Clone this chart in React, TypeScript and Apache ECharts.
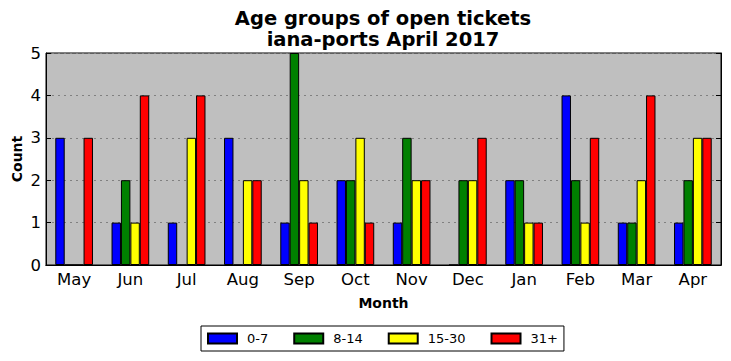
import React, { useEffect, useRef } from "react";
import * as echarts from "echarts";

const months = ["May", "Jun", "Jul", "Aug", "Sep", "Oct", "Nov", "Dec", "Jan", "Feb", "Mar", "Apr"];
const seriesNames = ["0-7", "8-14", "15-30", "31+"];
const colors = ["#0000ff", "#008000", "#ffff00", "#ff0000"];
const age0to7 = [3, 1, 1, 3, 1, 2, 1, 0, 2, 4, 1, 1];
const age8to14 = [0, 2, 0, 0, 5, 2, 3, 2, 2, 2, 1, 2];
const age15to30 = [0, 1, 3, 2, 2, 3, 2, 2, 1, 1, 2, 3];
const age31plus = [3, 4, 4, 2, 1, 1, 2, 3, 1, 3, 4, 3];
const yTicks = [0, 1, 2, 3, 4, 5];

const FONT = "DejaVu Sans";

export default function App() {
  const ref = useRef<HTMLDivElement>(null);
  useEffect(() => {
    if (!ref.current) return;
    const chart = echarts.init(ref.current, undefined, { renderer: "svg" });
    const data = [age0to7, age8to14, age15to30, age31plus];
    chart.setOption({
      animation: false,
      backgroundColor: "#ffffff",
      title: {
        text: "Age groups of open tickets\niana-ports April 2017",
        left: 383,
        textAlign: "center",
        top: 8,
        padding: 0,
        textStyle: { fontFamily: FONT, fontSize: 19.5, fontWeight: "bold", color: "#000", lineHeight: 21 },
      },
      legend: {
        bottom: 10,
        left: 201,
        data: seriesNames,
        itemWidth: 29,
        itemHeight: 10,
        itemGap: 25,
        borderColor: "#000",
        borderWidth: 1,
        borderRadius: 0,
        padding: [6, 6, 6, 6],
        backgroundColor: "#fff",
        textStyle: { fontFamily: FONT, fontSize: 13, color: "#000", padding: [0, 0, 0, 5] },
        icon: "rect",
      },
      grid: {
        left: 46,
        right: 10,
        top: 53,
        bottom: 96,
        containLabel: false,
        outerBoundsMode: "none",
        show: true,
        backgroundColor: "#bfbfbf",
        borderColor: "#000",
        borderWidth: 1,
      },
      xAxis: [
        {
          type: "category",
          data: months,
          name: "Month",
          nameLocation: "middle",
          nameGap: 31,
          nameTextStyle: { fontFamily: FONT, fontSize: 14, fontWeight: "bold", color: "#000" },
          axisLine: { lineStyle: { color: "#000", width: 1 } },
          axisTick: { inside: true, alignWithLabel: true, length: 5, lineStyle: { color: "#000" } },
          axisLabel: { fontFamily: FONT, fontSize: 16.5, color: "#000", margin: 6 },
        },
        {
          type: "category",
          data: months,
          position: "top",
          axisLine: { lineStyle: { color: "#000", width: 1 } },
          axisTick: { inside: true, alignWithLabel: true, length: 5, lineStyle: { color: "#000" } },
          axisLabel: { show: false },
        },
      ],
      yAxis: [
        {
          type: "value",
          min: 0,
          max: 5,
          interval: 1,
          name: "Count",
          nameLocation: "middle",
          nameGap: 22,
          nameMoveOverlap: false,
          nameTextStyle: { fontFamily: FONT, fontSize: 14, fontWeight: "bold", color: "#000" },
          axisLine: { show: true, lineStyle: { color: "#000" } },
          axisTick: { show: true, inside: true, length: 5, lineStyle: { color: "#000" } },
          axisLabel: {
            fontFamily: FONT,
            fontSize: 16.5,
            color: "#000",
            margin: 5,
            formatter: (v: number) => (yTicks.includes(v) ? String(v) : ""),
          },
          splitLine: { show: true, lineStyle: { color: "#808080", type: [2, 4], width: 1 } },
        },
        {
          type: "value",
          min: 0,
          max: 5,
          interval: 1,
          position: "right",
          axisLine: { show: true, lineStyle: { color: "#000" } },
          axisTick: { show: true, inside: true, length: 5, lineStyle: { color: "#000" } },
          axisLabel: { show: false },
          splitLine: { show: false },
        },
      ],
      series: seriesNames.map((name, i) => ({
        name,
        type: "bar",
        data: data[i],
        barGap: "0%",
        barCategoryGap: "33%",
        itemStyle: { color: colors[i], borderColor: "#000", borderWidth: 1 },
      })),
    });
    return () => chart.dispose();
  }, []);
  return <div ref={ref} style={{ width: 731, height: 361, margin: -8 }} />;
}
